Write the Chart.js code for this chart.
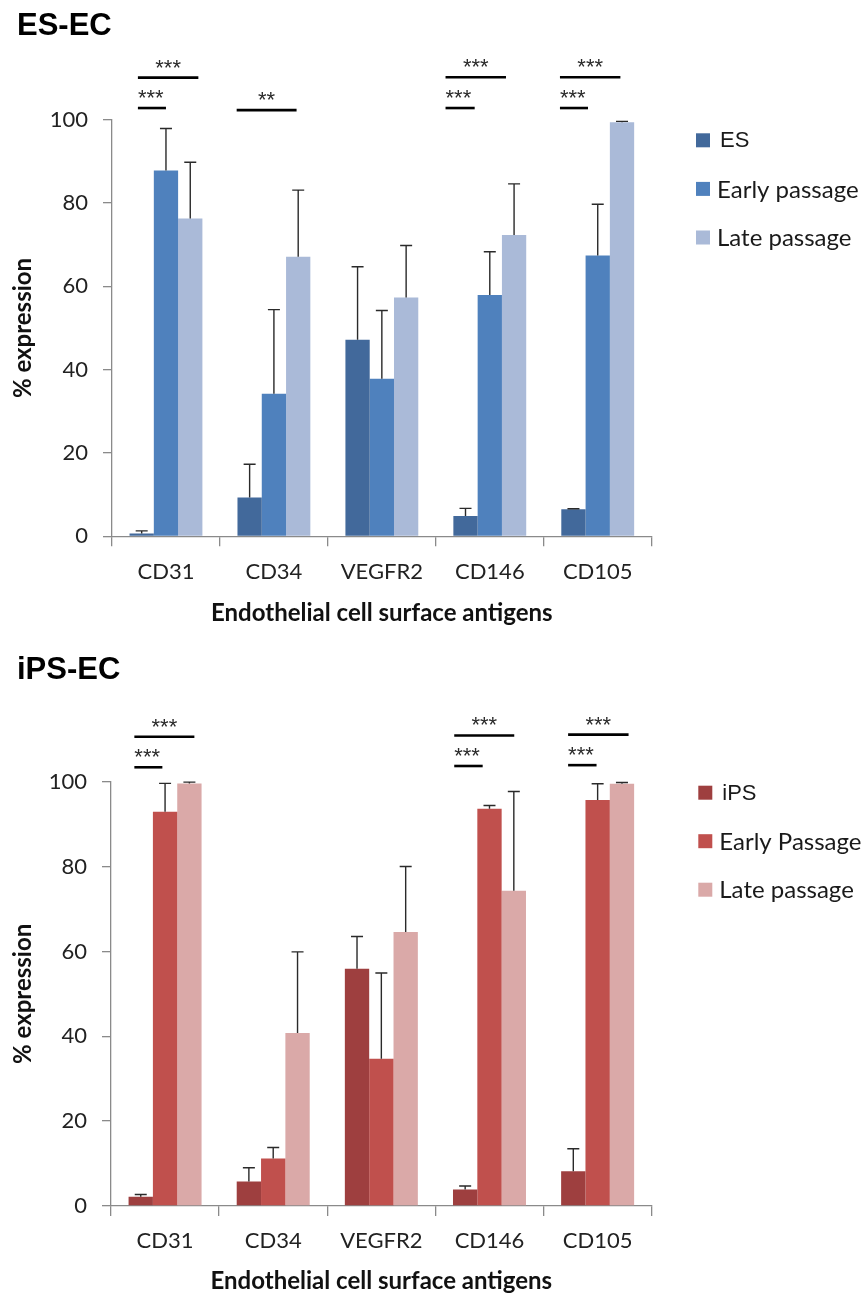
<!DOCTYPE html>
<html><head><meta charset="utf-8">
<script src="https://cdn.jsdelivr.net/npm/chart.js@4.4.0/dist/chart.umd.min.js"></script>
<style>
html,body{margin:0;padding:0;background:#fff;width:867px;height:1295px;overflow:hidden;}
.wrap{position:absolute;left:0;width:867px;}
canvas{display:block;}
</style></head><body>
<div class="wrap" style="top:0;height:640px"><canvas id="c1" width="867" height="640"></canvas></div>
<div class="wrap" style="top:640px;height:655px"><canvas id="c2" width="867" height="655"></canvas></div>
<script>
// ---------- data ----------
const categories = ['CD31', 'CD34', 'VEGFR2', 'CD146', 'CD105'];
const yTicks = [0, 20, 40, 60, 80, 100];

// ES-EC panel
const esLabels = ['ES', 'Early passage', 'Late passage'];
const esValues      = [0.7, 9.3, 47.2, 4.9, 6.5];
const esErrors      = [0.6, 8.0, 17.5, 1.8, 0.1];
const esEarlyValues = [87.8, 34.2, 37.8, 57.9, 67.4];
const esEarlyErrors = [10.1, 20.2, 16.4, 10.4, 12.3];
const esLateValues  = [76.3, 67.1, 57.3, 72.3, 99.4];
const esLateErrors  = [13.5, 16.0, 12.5, 12.3, 0.2];
const esSigLabels   = ['***', '***', '**', '***', '***', '***', '***'];

// iPS-EC panel
const ipsLabels = ['iPS', 'Early Passage', 'Late passage'];
const ipsValues      = [2.2, 5.8, 55.9, 3.9, 8.2];
const ipsErrors      = [0.5, 3.2, 7.6, 0.8, 5.3];
const ipsEarlyValues = [92.9, 11.2, 34.7, 93.6, 95.7];
const ipsEarlyErrors = [6.7, 2.6, 20.2, 0.8, 3.8];
const ipsLateValues  = [99.6, 40.8, 64.6, 74.3, 99.5];
const ipsLateErrors  = [0.3, 19.1, 15.4, 23.4, 0.3];
const ipsSigLabels   = ['***', '***', '***', '***', '***', '***'];

// ---------- annotation geometry (category units / value units) ----------
const esSigGeom = [
  {cat:0, x0:-0.26, x1:0.00, y:102.8, align:'left'},
  {cat:0, x0:-0.26, x1:0.30, y:110.1, align:'center'},
  {cat:1, x0:-0.345, x1:0.21, y:102.3, align:'center'},
  {cat:3, x0:-0.41, x1:-0.14, y:102.8, align:'left'},
  {cat:3, x0:-0.41, x1:0.15, y:110.2, align:'center'},
  {cat:4, x0:-0.35, x1:-0.09, y:102.8, align:'left'},
  {cat:4, x0:-0.35, x1:0.21, y:110.2, align:'center'}
];
const ipsSigGeom = [
  {cat:0, x0:-0.284, x1:-0.025, y:103.4, align:'left'},
  {cat:0, x0:-0.284, x1:0.271, y:110.6, align:'center'},
  {cat:3, x0:-0.326, x1:-0.063, y:103.7, align:'left'},
  {cat:3, x0:-0.326, x1:0.229, y:110.9, align:'center'},
  {cat:4, x0:-0.273, x1:-0.01, y:103.9, align:'left'},
  {cat:4, x0:-0.273, x1:0.286, y:111.1, align:'center'}
];

Chart.defaults.font.family = 'Lato';
Chart.defaults.color = '#222';

// ---------- plugins ----------
const errorBarPlugin = {
  id: 'errorBars',
  afterDatasetsDraw(chart) {
    const ctx = chart.ctx, y = chart.scales.y;
    ctx.save();
    ctx.strokeStyle = '#2a2a2a';
    ctx.lineWidth = 1.4;
    chart.data.datasets.forEach((ds, i) => {
      const meta = chart.getDatasetMeta(i);
      meta.data.forEach((bar, j) => {
        const v = ds.data[j], e = ds.errors[j];
        const top = y.getPixelForValue(v + e);
        ctx.beginPath();
        ctx.moveTo(bar.x, bar.y);
        ctx.lineTo(bar.x, top);
        ctx.moveTo(bar.x - 6, top);
        ctx.lineTo(bar.x + 6, top);
        ctx.stroke();
      });
    });
    ctx.restore();
  }
};

const sigPlugin = {
  id: 'sig',
  afterDraw(chart, args, opts) {
    const ctx = chart.ctx, xs = chart.scales.x, ys = chart.scales.y;
    const w = (xs.right - xs.left) / chart.data.labels.length;
    ctx.save();
    ctx.strokeStyle = '#000';
    ctx.lineWidth = 2.6;
    ctx.fillStyle = '#2a2a2a';
    ctx.font = '22px "Liberation Sans"';
    ctx.textBaseline = 'alphabetic';
    opts.geom.forEach((g, k) => {
      const xc = xs.getPixelForValue(g.cat);
      const x0 = xc + g.x0 * w, x1 = xc + g.x1 * w;
      const yy = ys.getPixelForValue(g.y);
      ctx.beginPath();
      ctx.moveTo(x0, yy);
      ctx.lineTo(x1, yy);
      ctx.stroke();
      const t = opts.labels[k];
      if (g.align === 'left') { ctx.textAlign = 'left'; ctx.fillText(t, x0, yy - 3); }
      else { ctx.textAlign = 'center'; ctx.fillText(t, (x0 + x1) / 2, yy - 3); }
    });
    ctx.restore();
  }
};

const legendPlugin = {
  id: 'sideLegend',
  afterDraw(chart, args, opts) {
    const ctx = chart.ctx;
    ctx.save();
    ctx.textBaseline = 'middle';
    ctx.textAlign = 'left';
    chart.data.datasets.forEach((ds, i) => {
      const cy = opts.y + i * opts.gap;
      ctx.fillStyle = ds.backgroundColor;
      ctx.fillRect(opts.x, cy - 7, 14, 14);
      ctx.fillStyle = '#1a1a1a';
      ctx.font = i === 0 ? '22px "Liberation Sans"' : '24px Lato';
      ctx.fillText(ds.label, opts.x + 24 - (i === 0 ? 0 : 3), cy + 1);
    });
    ctx.restore();
  }
};

const panelTitlePlugin = {
  id: 'panelTitle',
  afterDraw(chart, args, opts) {
    const ctx = chart.ctx;
    ctx.save();
    ctx.fillStyle = '#000';
    ctx.font = 'bold 31px "Liberation Sans"';
    ctx.textAlign = 'left';
    ctx.textBaseline = 'alphabetic';
    ctx.fillText(opts.text, opts.x, opts.y);
    ctx.restore();
  }
};

function makeChart(id, o) {
  return new Chart(document.getElementById(id), {
    type: 'bar',
    data: {
      labels: categories,
      datasets: o.series.map(s => ({
        label: s.label, data: s.data, errors: s.err,
        backgroundColor: s.color, borderWidth: 0,
        categoryPercentage: 0.675, barPercentage: 1.0
      }))
    },
    options: {
      responsive: false, animation: false, devicePixelRatio: 1,
      layout: { padding: o.padding },
      plugins: {
        legend: { display: false }, tooltip: { enabled: false },
        errorBars: {},
        sig: { geom: o.sigGeom, labels: o.sigLabels },
        sideLegend: o.legend,
        panelTitle: o.title
      },
      scales: {
        x: {
          offset: true,
          grid: { offset: true, drawOnChartArea: false, tickLength: 10, color: '#8a8a8a', lineWidth: 1.3 },
          border: { color: '#8a8a8a', width: 1.3 },
          ticks: { padding: 12, color: '#222', font: { size: 22 }, maxRotation: 0, autoSkip: false },
          title: { display: true, text: 'Endothelial cell surface antigens', color: '#111',
                   font: { size: 24, weight: 'bold', lineHeight: 1 }, padding: { top: 0, bottom: o.xTitlePad } },
          afterFit(s) { s.height = o.xHeight; }
        },
        y: {
          min: yTicks[0], max: yTicks[yTicks.length - 1],
          afterBuildTicks(s) { s.ticks = yTicks.map(v => ({ value: v })); },
          grid: { drawOnChartArea: false, tickLength: 9, color: '#8a8a8a', lineWidth: 1.3 },
          border: { color: '#8a8a8a', width: 1.3 },
          ticks: { padding: 15, color: '#222', font: { size: 22 } },
          title: { display: true, text: '% expression', color: '#111',
                   font: { size: 24, weight: 'bold', lineHeight: 1 }, padding: { top: 11, bottom: 0 } },
          afterFit(s) { s.width = o.yWidth; }
        }
      }
    },
    plugins: [errorBarPlugin, sigPlugin, legendPlugin, panelTitlePlugin]
  });
}

makeChart('c1', {
  series: [
    { label: esLabels[0], data: esValues, err: esErrors, color: '#42699B' },
    { label: esLabels[1], data: esEarlyValues, err: esEarlyErrors, color: '#4F81BD' },
    { label: esLabels[2], data: esLateValues, err: esLateErrors, color: '#AABAD8' }
  ],
  padding: { top: 119.7, right: 215.3, left: 0, bottom: 0 },
  yWidth: 112, xHeight: 103.7, xTitlePad: 15,
  sigGeom: esSigGeom, sigLabels: esSigLabels,
  legend: { x: 696, y: 140.3, gap: 48.6 },
  title: { text: 'ES-EC', x: 17, y: 35 }
});

makeChart('c2', {
  series: [
    { label: ipsLabels[0], data: ipsValues, err: ipsErrors, color: '#9E3F3F' },
    { label: ipsLabels[1], data: ipsEarlyValues, err: ipsEarlyErrors, color: '#C0504D' },
    { label: ipsLabels[2], data: ipsLateValues, err: ipsLateErrors, color: '#DAA9A8' }
  ],
  padding: { top: 141.7, right: 215.3, left: 0, bottom: 0 },
  yWidth: 111, xHeight: 89, xTitlePad: 1.3,
  sigGeom: ipsSigGeom, sigLabels: ipsSigLabels,
  legend: { x: 698.3, y: 152.7, gap: 48.5 },
  title: { text: 'iPS-EC', x: 17, y: 39.3 }
});
</script>
</body></html>
